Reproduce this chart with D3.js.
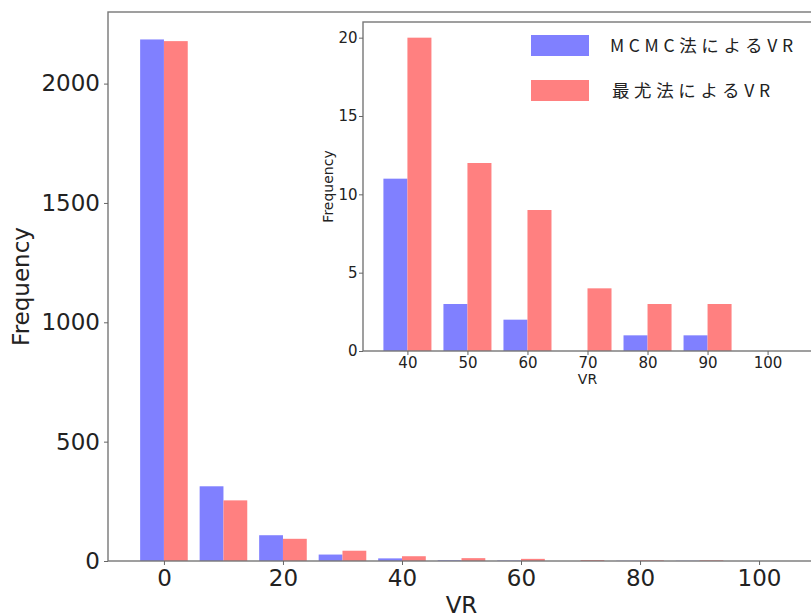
<!DOCTYPE html>
<html>
<head>
<meta charset="utf-8">
<script src="https://cdn.jsdelivr.net/npm/d3@7"></script>
<style>
  body { margin: 0; background: #fff; }
  svg { display: block; font-family: "DejaVu Sans", sans-serif; }
  .axis .domain { display: none; }
  .axis line { stroke: #666; }
  .axis text { fill: #222; }
</style>
</head>
<body>
<svg id="chart"></svg>
<script>
// histogram bins (bin centres, width 10)
const bins = [0, 10, 20, 30, 40, 50, 60, 70, 80, 90, 100];
// counts
const mcmcCounts = [2185, 313, 108, 27, 11, 3, 2, 0, 1, 1, 0];
const mleCounts = [2178, 254, 93, 43, 20, 12, 9, 4, 3, 3, 0];

const mainYTicks = [0, 500, 1000, 1500, 2000];
const mainXTicks = [0, 20, 40, 60, 80, 100];
const insetYTicks = [0, 5, 10, 15, 20];
const insetXTicks = [40, 50, 60, 70, 80, 90, 100];

const seriesNames = ['MCMC法によるVR', '最尤法によるVR'];
const seriesColors = ['#8080ff', '#ff8080'];

class HistogramChart {
  /**
   * @param {Object} _config
   */
  constructor(_config) {
    this.config = {
      parent: _config.parent,
      left: _config.left,
      top: _config.top,
      width: _config.width,
      height: _config.height,
      xDomain: _config.xDomain,
      yDomain: _config.yDomain,
      xTicks: _config.xTicks,
      yTicks: _config.yTicks,
      minBin: _config.minBin,
      tickFont: _config.tickFont,
      tickPad: _config.tickPad,
      labelFont: _config.labelFont,
      yLabelX: _config.yLabelX,
      xLabelY: _config.xLabelY,
    };
    this.initVis();
  }

  initVis() {
    const vis = this;
    const c = vis.config;

    vis.xScale = d3.scaleLinear().domain(c.xDomain).range([0, c.width]);
    vis.yScale = d3.scaleLinear().domain(c.yDomain).range([c.height, 0]);

    vis.chart = c.parent.append('g')
      .attr('transform', `translate(${c.left},${c.top})`);

    // white background (covers whatever is behind the inset)
    vis.chart.append('rect')
      .attr('width', c.width)
      .attr('height', c.height)
      .attr('fill', '#fff');

    vis.renderBars();

    // spines
    vis.chart.append('rect')
      .attr('width', c.width)
      .attr('height', c.height)
      .attr('fill', 'none')
      .attr('stroke', '#777')
      .attr('stroke-width', 1.4);

    const xAxis = d3.axisBottom(vis.xScale)
      .tickValues(c.xTicks)
      .tickFormat(d3.format('d'))
      .tickSize(4)
      .tickPadding(c.tickPad + 1);
    const yAxis = d3.axisLeft(vis.yScale)
      .tickValues(c.yTicks)
      .tickFormat(d3.format('d'))
      .tickSize(4)
      .tickPadding(c.tickPad);

    vis.chart.append('g')
      .attr('class', 'axis x-axis')
      .attr('transform', `translate(0,${c.height})`)
      .call(xAxis)
      .selectAll('text')
      .attr('font-size', c.tickFont)
      .attr('font-family', '"DejaVu Sans", sans-serif');

    vis.chart.append('g')
      .attr('class', 'axis y-axis')
      .call(yAxis)
      .selectAll('text')
      .attr('font-size', c.tickFont)
      .attr('font-family', '"DejaVu Sans", sans-serif');

    // axis titles
    vis.chart.append('text')
      .attr('transform', `translate(${c.yLabelX},${c.height / 2}) rotate(-90)`)
      .attr('text-anchor', 'middle')
      .attr('font-size', c.labelFont)
      .attr('fill', '#222')
      .text('Frequency');

    vis.chart.append('text')
      .attr('x', c.width / 2)
      .attr('y', c.xLabelY)
      .attr('text-anchor', 'middle')
      .attr('font-size', c.labelFont)
      .attr('fill', '#222')
      .text('VR');
  }

  renderBars() {
    const vis = this;
    const c = vis.config;
    const rows = [];
    bins.forEach((b, i) => {
      if (b < c.minBin) return;
      rows.push({ bin: b, series: 0, value: mcmcCounts[i] });
      rows.push({ bin: b, series: 1, value: mleCounts[i] });
    });

    // bars use 80% of the bin width, split between the two series
    const half = 4;
    vis.chart.selectAll('.bar')
      .data(rows)
      .join('rect')
      .attr('class', 'bar')
      .attr('x', (d) => vis.xScale(d.series === 0 ? d.bin - half : d.bin))
      .attr('width', vis.xScale(half) - vis.xScale(0))
      .attr('y', (d) => vis.yScale(d.value))
      .attr('height', (d) => vis.yScale(0) - vis.yScale(d.value))
      .attr('fill', (d) => seriesColors[d.series]);
  }
}

const svg = d3.select('#chart')
  .attr('width', 811)
  .attr('height', 614);

const mainChart = new HistogramChart({
  parent: svg,
  left: 108,
  top: 12,
  width: 707,
  height: 549,
  xDomain: [-9.4, 109.4],
  yDomain: [0, 2300],
  xTicks: mainXTicks,
  yTicks: mainYTicks,
  minBin: 0,
  tickFont: 23,
  tickPad: 4,
  labelFont: 23,
  yLabelX: -79,
  xLabelY: 601,
});

const insetChart = new HistogramChart({
  parent: svg,
  left: 363,
  top: 22,
  width: 449,
  height: 329,
  xDomain: [32.6, 107.4],
  yDomain: [0, 21],
  xTicks: insetXTicks,
  yTicks: insetYTicks,
  minBin: 40,
  tickFont: 15,
  tickPad: 1.5,
  labelFont: 14,
  yLabelX: -30,
  xLabelY: 362,
});

// legend inside the inset
const legend = svg.append('g')
  .attr('transform', 'translate(531,35)');

const legendItems = legend.selectAll('.legend-item')
  .data(seriesNames)
  .join('g')
  .attr('class', 'legend-item')
  .attr('transform', (d, i) => `translate(0,${i * 45})`);

legendItems.append('rect')
  .attr('width', 58)
  .attr('height', 21)
  .attr('fill', (d, i) => seriesColors[i]);

legendItems.append('text')
  .attr('x', (d, i) => (i === 0 ? 79 : 81))
  .attr('y', 17)
  .attr('font-family', '"Noto Sans CJK JP", sans-serif')
  .attr('font-size', 17.5)
  .attr('fill', '#222')
  .attr('textLength', (d, i) => (i === 0 ? 183 : 158))
  .attr('lengthAdjust', 'spacing')
  .text((d) => d);
</script>
</body>
</html>
